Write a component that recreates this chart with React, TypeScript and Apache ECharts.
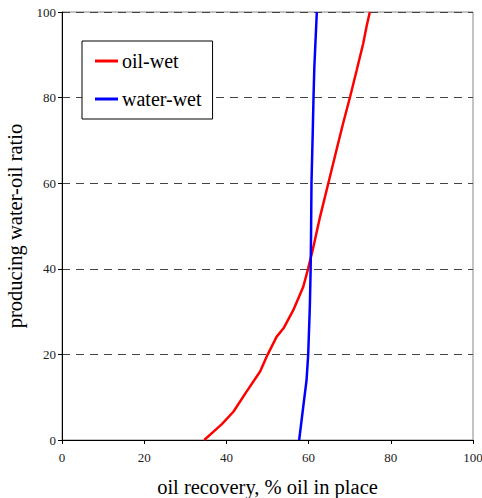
import React, { useEffect, useRef } from "react";
import * as echarts from "echarts";

const oilWet: [number, number][] = [
  [34.6, 0], [36.8, 1.9], [38.9, 3.7], [41.7, 6.6], [44.9, 11.3], [48.2, 16.0],
  [50.0, 19.9], [52.2, 24.1], [53.9, 26.1], [56.3, 30.4], [58.7, 35.8], [59.9, 40.1],
  [61.0, 44.4], [62.8, 52.2], [64.8, 60.0], [66.8, 67.8], [68.4, 74.0], [70.1, 80.2],
  [71.7, 86.4], [73.3, 92.7], [74.1, 96.6], [74.9, 100],
];

const waterWet: [number, number][] = [
  [57.7, 0], [58.7, 7.8], [59.5, 14.0], [59.9, 19.9], [60.3, 31.1], [60.5, 40.1],
  [60.6, 48.3], [60.7, 60.0], [61.0, 71.6], [61.2, 80.2], [61.4, 87.2], [62.0, 100],
];

const seriesNames = ["oil-wet", "water-wet"];
const seriesColors = ["#ff0000", "#0000ff"];
const xTitle = "oil recovery, % oil in place";
const yTitle = "producing water-oil ratio";

const FONT = "Liberation Serif";

export default function App() {
  const ref = useRef<HTMLDivElement>(null);
  useEffect(() => {
    if (!ref.current) return;
    const chart = echarts.init(ref.current, undefined, { renderer: "svg" });
    const axisCommon = {
      type: "value" as const,
      min: 0,
      max: 100,
      interval: 20,
      axisLine: { show: true, lineStyle: { color: "#000", width: 1 } },
      axisTick: { show: true, inside: false, length: 4, lineStyle: { color: "#000" } },
      axisLabel: { fontFamily: FONT, fontSize: 13, color: "#222" },
    };
    chart.setOption({
      animation: false,
      backgroundColor: "#fff",
      textStyle: { fontFamily: FONT },
      grid: {
        left: 62,
        right: 9,
        top: 12,
        bottom: 58,
        containLabel: false,
        outerBoundsMode: "none",
        show: true,
        borderColor: "#888",
        borderWidth: 1,
      },
      legend: {
        show: true,
        left: 82,
        top: 41,
        orient: "vertical",
        data: seriesNames,
        backgroundColor: "#fff",
        borderColor: "#000",
        borderWidth: 1,
        padding: [10, 11, 10, 13],
        itemGap: 18,
        itemWidth: 23,
        itemHeight: 3,
        icon: "rect",
        textStyle: { fontFamily: FONT, fontSize: 20, color: "#000", padding: [0, 0, 0, -1] },
      },
      xAxis: {
        ...axisCommon,
        name: xTitle,
        nameLocation: "middle",
        nameGap: 36,
        nameTextStyle: { fontFamily: FONT, fontSize: 20.5, color: "#000" },
        splitLine: { show: false },
        axisLabel: { ...axisCommon.axisLabel, margin: 11 },
      },
      yAxis: {
        ...axisCommon,
        name: yTitle,
        nameLocation: "middle",
        nameGap: 37,
        nameTextStyle: { fontFamily: FONT, fontSize: 20.5, color: "#000" },
        axisLabel: { ...axisCommon.axisLabel, margin: 6 },
        splitLine: {
          show: true,
          lineStyle: { color: "#444", type: [8, 6], width: 1 },
        },
      },
      series: [
        {
          name: seriesNames[0],
          type: "line",
          data: oilWet,
          showSymbol: false,
          symbol: "none",
          lineStyle: { color: seriesColors[0], width: 2.5 },
          itemStyle: { color: seriesColors[0] },
          z: 3,
        },
        {
          name: seriesNames[1],
          type: "line",
          data: waterWet,
          showSymbol: false,
          symbol: "none",
          lineStyle: { color: seriesColors[1], width: 2.5 },
          itemStyle: { color: seriesColors[1] },
          z: 4,
        },
      ],
    });
    return () => chart.dispose();
  }, []);
  return (
    <div
      ref={ref}
      style={{ position: "absolute", left: 0, top: 0, width: 482, height: 498 }}
    />
  );
}
